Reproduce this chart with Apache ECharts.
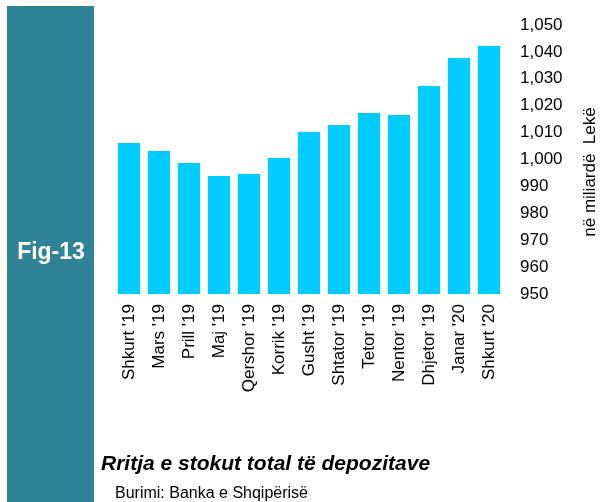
<!DOCTYPE html>
<html>
<head>
<meta charset="utf-8">
<script src="https://cdn.jsdelivr.net/npm/echarts@6/dist/echarts.min.js"></script>
<style>
  html, body { margin: 0; padding: 0; background: #fff; }
  #chart { width: 611px; height: 502px; }
</style>
</head>
<body>
<div id="chart"></div>
<script>
// Data
const months = ["Shkurt '19", "Mars '19", "Prill '19", "Maj '19", "Qershor '19", "Korrik '19",
  "Gusht '19", "Shtator '19", "Tetor '19", "Nentor '19", "Dhjetor '19", "Janar '20", "Shkurt '20"];
const deposits = [1006.1, 1003.2, 998.7, 993.9, 994.6, 1000.6, 1010.2, 1012.8, 1017.3, 1016.5, 1027.3, 1037.7, 1042.2];
const yTicks = { min: 950, max: 1050, step: 10 };

const FONT = '"Liberation Sans", Arial, sans-serif';

const chart = echarts.init(document.getElementById('chart'));
chart.setOption({
  animation: false,
  backgroundColor: '#fff',
  grid: { left: 114, right: 107, top: 25, bottom: 208 },
  xAxis: {
    type: 'category',
    data: months,
    axisLine: { show: false },
    axisTick: { show: false },
    axisLabel: {
      rotate: 90,
      margin: 10,
      fontFamily: FONT,
      fontSize: 17,
      color: '#000'
    }
  },
  yAxis: {
    type: 'value',
    position: 'right',
    min: yTicks.min,
    max: yTicks.max,
    interval: yTicks.step,
    splitLine: { show: false },
    axisLine: { show: false },
    axisTick: { show: false },
    axisLabel: {
      margin: 16,
      fontFamily: FONT,
      fontSize: 17,
      color: '#000',
      formatter: v => v.toLocaleString('en-US')
    }
  },
  series: [{
    type: 'bar',
    data: deposits,
    barCategoryGap: '26%',
    itemStyle: { color: '#00CCFF' }
  }],
  graphic: [
    // teal side band
    {
      type: 'rect',
      shape: { x: 7, y: 6, width: 87, height: 496 },
      style: { fill: '#308396' },
      silent: true
    },
    {
      type: 'text',
      x: 51, y: 253,
      style: {
        text: 'Fig-13',
        fill: '#fff',
        font: 'bold 23px ' + FONT,
        align: 'center',
        verticalAlign: 'middle'
      }
    },
    // y axis unit, reads bottom to top
    {
      type: 'text',
      x: 590, y: 172,
      rotation: Math.PI / 2,
      style: {
        text: 'në miliardë  Lekë',
        fill: '#000',
        font: '17px ' + FONT,
        align: 'center',
        verticalAlign: 'middle'
      }
    },
    {
      type: 'text',
      x: 101, y: 464,
      style: {
        text: 'Rritja e stokut total të depozitave',
        fill: '#000',
        font: 'italic bold 21px ' + FONT,
        align: 'left',
        verticalAlign: 'middle'
      }
    },
    {
      type: 'text',
      x: 115, y: 494,
      style: {
        text: 'Burimi: Banka e Shqipërisë',
        fill: '#000',
        font: '16px ' + FONT,
        align: 'left',
        verticalAlign: 'middle'
      }
    }
  ]
});
</script>
</body>
</html>
